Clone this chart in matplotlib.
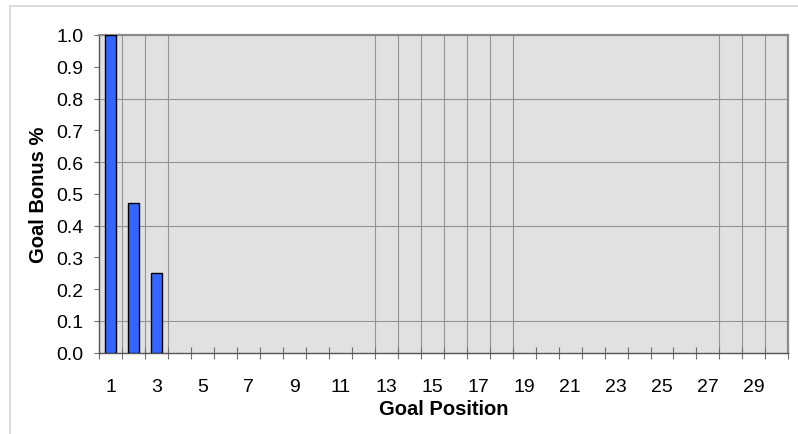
import matplotlib
matplotlib.use("Agg")
import matplotlib.pyplot as plt
from matplotlib.lines import Line2D

# Goal bonus by finishing position
positions = list(range(1, 31))
bonus = [1.0, 0.47, 0.25] + [0.0] * 27
label_positions = list(range(1, 30, 2))

# category boundaries that carry a vertical gridline
vgrid_boundaries = [1, 2, 3, 12, 13, 14, 15, 16, 17, 18, 27, 28, 29]
hgrid_values = [0.1, 0.4, 0.6, 0.8]

plt.rcParams['font.family'] = ['Liberation Sans', 'DejaVu Sans']

W, H = 798, 435
fig = plt.figure(figsize=(W / 100, H / 100), dpi=100)
fig.patch.set_facecolor('white')

# outer chart frame
fig.add_artist(Line2D([9.5 / W, 1.0], [1 - 6.5 / H, 1 - 6.5 / H], color='#d4d4d4', lw=1.2))
fig.add_artist(Line2D([9.5 / W, 9.5 / W], [0.0, 1 - 6.5 / H], color='#d4d4d4', lw=1.2))

left, right, top, bottom = 99.3, 788.3, 36.0, 353.7
ax = fig.add_axes([left / W, 1 - bottom / H, (right - left) / W, (bottom - top) / H])
ax.set_facecolor('#e1e1e1')

# zero-valued positions get no visible outline
edge_widths = [1.0 if v > 0 else 0.0 for v in bonus]
ax.bar(positions, bonus, width=0.48, color='#3366ff', edgecolor='black',
       linewidth=edge_widths, zorder=3)

ax.set_xlim(0.5, 30.5)
ax.set_ylim(0, 1.0)

for b in vgrid_boundaries:
    ax.axvline(b + 0.5, color='#959595', lw=0.8, zorder=1)
for v in hgrid_values:
    ax.axhline(v, color='#959595', lw=0.8, zorder=1)

ax.set_xticks(label_positions)
ax.set_xticklabels([str(p) for p in label_positions])
ax.set_xticks([k + 0.5 for k in range(0, 31)], minor=True)
ax.tick_params(axis='x', which='major', length=0, pad=18, labelsize=14)
ax.tick_params(axis='x', which='minor', direction='inout', length=8.6, width=0.8, color='#707070')

yt = [round(0.1 * i, 1) for i in range(11)]
ax.set_yticks(yt)
ax.set_yticklabels([f"{v:.1f}" for v in yt])
ax.tick_params(axis='y', direction='out', length=3.6, width=0.8, color='#707070', pad=8, labelsize=14)

for s in ['left', 'bottom']:
    ax.spines[s].set_color('#555555')
    ax.spines[s].set_linewidth(1.0)
for s in ['top', 'right']:
    ax.spines[s].set_color('#8a8a8a')
    ax.spines[s].set_linewidth(1.6)

ax.set_xlabel('Goal Position', fontsize=14.5, fontweight='bold', labelpad=3)
ax.set_ylabel('Goal Bonus %', fontsize=14.5, fontweight='bold', labelpad=6)

fig.savefig('out.png', dpi=100)
